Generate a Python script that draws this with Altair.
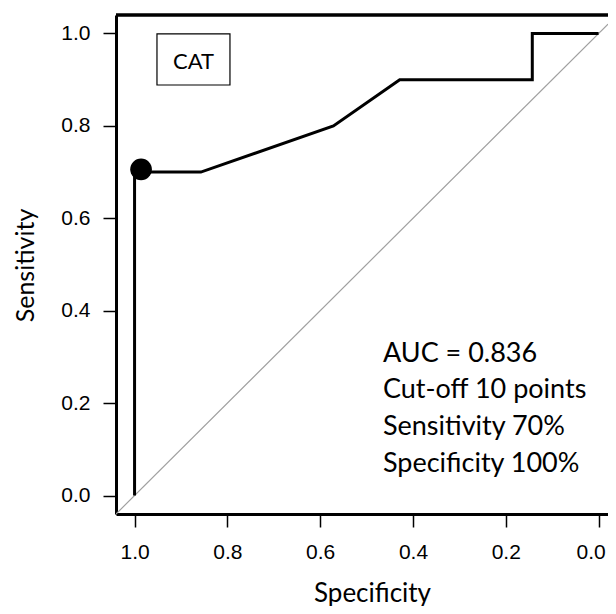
import altair as alt
import pandas as pd

# ROC curve (specificity, sensitivity)
roc_spec = [1.0, 1.0, 6/7, 4/7, 3/7, 1/7, 1/7, 0.0]
roc_sens = [0.0, 0.7, 0.7, 0.8, 0.9, 0.9, 1.0, 1.0]

# chosen cut-off point
cut_spec = [0.986]
cut_sens = [0.706]

# chance diagonal
diag_spec = [1.04, -0.0203]
diag_sens = [-0.04, 1.0203]

# annotation text
ann_lines = ["AUC = 0.836", "Cut-off 10 points", "Sensitivity 70%", "Specificity 100%"]
ann_spec = [0.4647, 0.4647, 0.4647, 0.4647]
ann_sens = [0.289, 0.210, 0.130, 0.051]

# CAT label box
box_spec = [0.9517]
box_spec2 = [0.7944]
box_sens = [0.999]
box_sens2 = [0.8885]
lab_text = ["CAT"]
lab_spec = [0.873]
lab_sens = [0.923]

x_ticks = [1.0, 0.8, 0.6, 0.4, 0.2, 0.0]
y_ticks = [0.0, 0.2, 0.4, 0.6, 0.8, 1.0]

W, H = 492, 499
xs = alt.Scale(domain=[-0.0203, 1.04], reverse=True, nice=False, zero=False)
ys = alt.Scale(domain=[-0.04, 1.04], nice=False, zero=False)

roc_df = pd.DataFrame({"spec": roc_spec, "sens": roc_sens, "i": list(range(len(roc_spec)))})
cut_df = pd.DataFrame({"spec": cut_spec, "sens": cut_sens})
diag_df = pd.DataFrame({"spec": diag_spec, "sens": diag_sens, "i": [0, 1]})
ann_df = pd.DataFrame({"t": ann_lines, "spec": ann_spec, "sens": ann_sens})
box_df = pd.DataFrame({"s1": box_spec, "s2": box_spec2, "y1": box_sens, "y2": box_sens2})
lab_df = pd.DataFrame({"t": lab_text, "spec": lab_spec, "sens": lab_sens})

x_axis = alt.Axis(
    values=x_ticks, format=".1f", title="Specificity", grid=False,
    domainColor="black", domainWidth=3, tickColor="black", tickWidth=1.5, tickSize=13,
    labelFont="Liberation Sans", labelFontSize=21, labelColor="black", labelPadding=14,
    labelOffset=alt.condition("datum.value == 0", alt.value(-8), alt.value(0)),
    titleFont="Lato", titleFontSize=26, titleFontWeight="normal", titleColor="black",
    titleX=256, titleY=87, titleBaseline="alphabetic", titleAlign="center",
)
y_axis = alt.Axis(
    values=y_ticks, format=".1f", title="Sensitivity", grid=False,
    domainColor="black", domainWidth=3, tickColor="black", tickWidth=1.5, tickSize=13,
    labelFont="Liberation Sans", labelFontSize=21, labelColor="black", labelPadding=13,
    titleFont="Lato", titleFontSize=25, titleFontWeight="normal", titleColor="black",
    titleX=-83, titleY=250, titleBaseline="alphabetic", titleAlign="center", titleAngle=-90,
)

diag = alt.Chart(diag_df).mark_line(color="#a0a0a0", strokeWidth=1.2, clip=True).encode(
    x=alt.X("spec:Q", scale=xs, axis=x_axis),
    y=alt.Y("sens:Q", scale=ys, axis=y_axis),
    order="i:O",
)

roc = alt.Chart(roc_df).mark_line(color="black", strokeWidth=3, strokeJoin="miter").encode(
    x=alt.X("spec:Q", scale=xs),
    y=alt.Y("sens:Q", scale=ys),
    order="i:O",
)

cut = alt.Chart(cut_df).mark_circle(color="black", size=470, opacity=1).encode(
    x=alt.X("spec:Q", scale=xs),
    y=alt.Y("sens:Q", scale=ys),
)

ann = alt.Chart(ann_df).mark_text(
    font="Lato", fontSize=27, align="left", baseline="alphabetic", color="black"
).encode(
    x=alt.X("spec:Q", scale=xs),
    y=alt.Y("sens:Q", scale=ys),
    text="t:N",
)

box = alt.Chart(box_df).mark_rect(fill="white", stroke="black", strokeWidth=1.2).encode(
    x=alt.X("s1:Q", scale=xs),
    x2="s2:Q",
    y=alt.Y("y1:Q", scale=ys),
    y2="y2:Q",
)

lab = alt.Chart(lab_df).mark_text(
    font="Lato", fontSize=22, align="center", baseline="alphabetic", color="black"
).encode(
    x=alt.X("spec:Q", scale=xs),
    y=alt.Y("sens:Q", scale=ys),
    text="t:N",
)

top = alt.Chart(diag_df).mark_rule(color="black", strokeWidth=3).encode(
    x=alt.value(0), x2=alt.value(W), y=alt.value(0)
)

chart = alt.layer(diag, roc, cut, box, lab, ann, top).properties(
    width=W, height=H,
    autosize=alt.AutoSizeParams(type="none", contains="content"),
    padding={"left": 108, "top": 7, "right": 0, "bottom": 92},
).configure_view(stroke=None).configure(background="white")

chart.save("out.html", embed_options={"renderer": "svg", "actions": False})
